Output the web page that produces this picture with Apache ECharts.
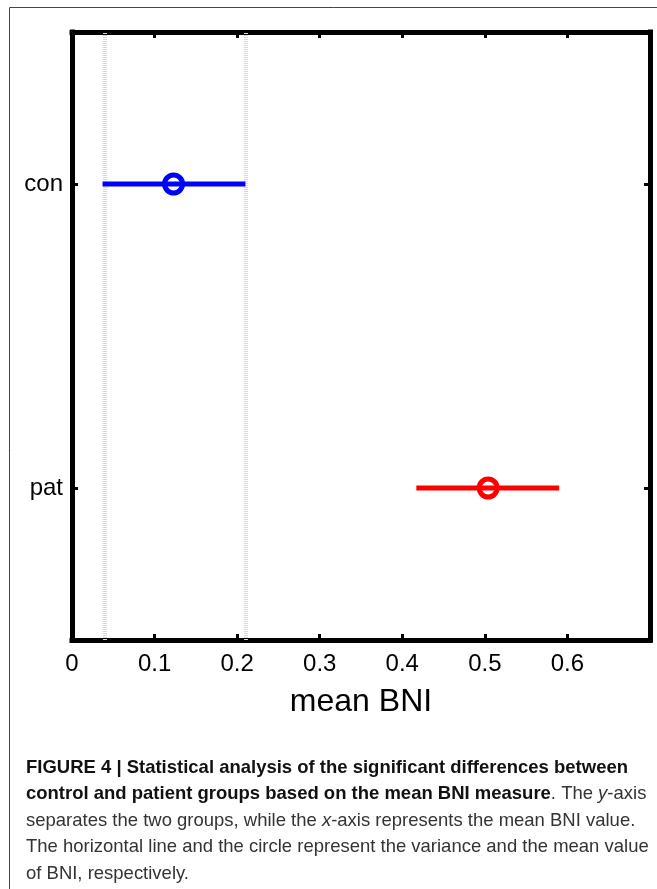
<!DOCTYPE html>
<html>
<head>
<meta charset="utf-8">
<script src="https://cdn.jsdelivr.net/npm/echarts@6/dist/echarts.min.js"></script>
<style>
html,body{margin:0;padding:0;background:#fff;}
#chart{width:657px;height:889px;}
</style>
</head>
<body>
<div id="chart"></div>
<script>
// ---- data ----
const groups = ['pat', 'con'];
const lowVals = [0.417, 0.037];
const meanVals = [0.504, 0.123];
const highVals = [0.590, 0.210];
const refLines = [0.037, 0.210];
const xTickLabels = ['0', '0.1', '0.2', '0.3', '0.4', '0.5', '0.6', ''];
const xName = 'mean BNI';
const captionLines = [
  '{b|FIGURE 4 | Statistical analysis of the significant differences between}',
  '{b|control and patient groups based on the mean BNI measure}{r|. The }{i|y}{r|-axis}',
  '{r|separates the two groups, while the }{i|x}{r|-axis represents the mean BNI value.}',
  '{r|The horizontal line and the circle represent the variance and the mean value}',
  '{r|of BNI, respectively.}'
];

// ---- styles ----
const groupColors = ['#ff0000', '#0000ff'];
const FONT = '"Liberation Sans", Arial, sans-serif';
const capFont = 19;

const chart = echarts.init(document.getElementById('chart'), null, {renderer: 'canvas'});

// measure caption line 1 to get a horizontal squeeze factor
const cv = document.createElement('canvas').getContext('2d');
cv.font = 'bold ' + capFont + 'px ' + FONT;
const w1 = cv.measureText('FIGURE 4 | Statistical analysis of the significant differences between').width;
const sx = 602 / w1;

const series = [];
groups.forEach((g, i) => {
  const s = {
    type: 'line',
    data: [[lowVals[i], i], [highVals[i], i]],
    showSymbol: false,
    symbol: 'none',
    silent: true,
    lineStyle: {color: groupColors[i], width: 5, cap: 'butt'},
    z: 3
  };
  if (g === 'con') {
    s.markLine = {
      silent: true,
      symbol: 'none',
      label: {show: false},
      lineStyle: {color: '#d6d6d6', width: 4, type: [1, 1]},
      data: refLines.map(v => ({xAxis: v})),
      z: 1
    };
  }
  series.push(s);
  series.push({
    type: 'scatter',
    data: [[meanVals[i], i]],
    symbol: 'circle',
    symbolSize: 18,
    itemStyle: {color: 'rgba(0,0,0,0)', borderColor: groupColors[i], borderWidth: 5, opacity: 1},
    z: 4
  });
});

const frameLine = {show: true, onZero: false, lineStyle: {color: '#000', width: 5, cap: 'square'}};
const tickIn = {show: true, inside: true, length: 6, lineStyle: {color: '#000', width: 3}};

const option = {
  backgroundColor: '#fff',
  animation: false,
  grid: {left: 72, right: 7, top: 32, bottom: 249, containLabel: false},
  xAxis: [{
    type: 'value', min: 0, max: 0.7, interval: 0.1, position: 'bottom',
    axisLine: frameLine, axisTick: tickIn, splitLine: {show: false},
    axisLabel: {
      color: '#000', fontFamily: FONT, fontSize: 24, margin: 12,
      formatter: (v) => xTickLabels[Math.round(v * 10)]
    },
    name: xName, nameLocation: 'middle', nameGap: 46,
    nameTextStyle: {color: '#000', fontFamily: FONT, fontSize: 32}
  }, {
    type: 'value', min: 0, max: 0.7, interval: 0.1, position: 'top',
    axisLine: frameLine, axisTick: tickIn, splitLine: {show: false},
    axisLabel: {show: false}
  }],
  yAxis: [{
    type: 'category', data: groups, position: 'left', boundaryGap: true,
    axisLine: frameLine, axisTick: Object.assign({alignWithLabel: true}, tickIn),
    splitLine: {show: false},
    axisLabel: {color: '#000', fontFamily: FONT, fontSize: 24, margin: 9}
  }, {
    type: 'category', data: groups, position: 'right', boundaryGap: true,
    axisLine: frameLine, axisTick: Object.assign({alignWithLabel: true}, tickIn),
    splitLine: {show: false}, axisLabel: {show: false}
  }],
  graphic: [
    {type: 'rect', silent: true, z: -10,
      shape: {x: 9.5, y: 7.5, width: 700, height: 900},
      style: {fill: 'none', stroke: '#444', lineWidth: 1}}
  ].concat(captionLines.map((t, k) => ({
    type: 'text', silent: true, left: 26, top: 758 + k * 26.5, scaleX: sx,
    style: {
      text: t,
      rich: {
        b: {fontFamily: FONT, fontWeight: 'bold', fontSize: capFont, fill: '#111'},
        r: {fontFamily: FONT, fontSize: capFont, fill: '#333'},
        i: {fontFamily: FONT, fontStyle: 'italic', fontSize: capFont, fill: '#333'}
      }
    }
  }))),
  series: series
};
chart.setOption(option);
</script>
</body>
</html>
